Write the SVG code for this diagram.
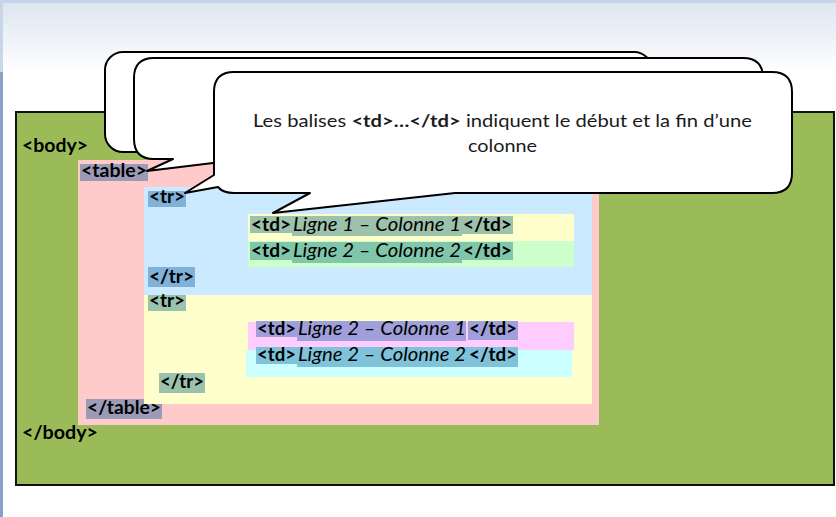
<svg xmlns="http://www.w3.org/2000/svg" width="836" height="517" viewBox="0 0 836 517">
<defs>
<linearGradient id="topg" x1="0" y1="0" x2="0" y2="1">
<stop offset="0" stop-color="#dbe4ef"/>
<stop offset="1" stop-color="#ffffff"/>
</linearGradient>
</defs>
<style>
.tag{font-family:Lato,"Liberation Sans",sans-serif;font-weight:bold;font-size:19px;fill:#000}
.td{font-family:Lato,"Liberation Sans",sans-serif;font-weight:bold;font-size:19.5px;fill:#000}
.it{font-family:Lato,"Liberation Sans",sans-serif;font-style:italic;font-size:19.5px;fill:#000}
.bub{fill:#fff;stroke:#000;stroke-width:2;stroke-linejoin:round}
.note{font-family:Lato,"Liberation Sans",sans-serif;font-size:17.5px;fill:#1a1a1a}
</style>
<rect width="836" height="517" fill="#fff"/>
<rect x="0" y="0" width="836" height="72" fill="url(#topg)"/>
<rect x="0" y="0" width="836" height="3" fill="#c3d4ea"/>
<rect x="0" y="0" width="3" height="72" fill="#c8d6e8"/>
<rect x="0" y="72" width="3" height="445" fill="#86a2c6"/>

<g id="body">
<rect x="16" y="112" width="818" height="373" fill="#9bbb59" stroke="#111" stroke-width="2"/>
<text class="tag" x="22" y="152" textLength="66" lengthAdjust="spacingAndGlyphs">&lt;body&gt;</text>
<text class="tag" x="22" y="439" textLength="76" lengthAdjust="spacingAndGlyphs">&lt;/body&gt;</text>
</g>

<g id="table">
<rect x="78" y="160" width="521" height="265" fill="#ffcaca"/>
<rect x="80" y="164" width="68" height="17" fill="#9b9bb8"/>
<text class="tag" x="81" y="177" textLength="66" lengthAdjust="spacingAndGlyphs">&lt;table&gt;</text>
<rect x="86" y="399" width="76" height="20" fill="#9b9bb8"/>
<text class="tag" x="87" y="414" textLength="74" lengthAdjust="spacingAndGlyphs">&lt;/table&gt;</text>
</g>

<g id="tr1">
<rect x="144" y="187" width="448" height="108" fill="#cbe9ff"/>
<rect x="148" y="191" width="38" height="16" fill="#7fb1d9"/>
<text class="tag" x="149" y="203" textLength="36" lengthAdjust="spacingAndGlyphs">&lt;tr&gt;</text>
<rect x="148" y="267" width="47" height="20" fill="#7fb1d9"/>
<text class="tag" x="149" y="283" textLength="45" lengthAdjust="spacingAndGlyphs">&lt;/tr&gt;</text>
</g>

<g id="td11">
<rect x="248" y="214" width="326" height="27" fill="#ffffcc"/>
<rect x="250" y="216" width="42" height="17" fill="#9cc2ab"/>
<rect x="292" y="216" width="170" height="20" fill="#9cc2ab"/>
<rect x="462" y="216" width="51" height="18" fill="#9cc2ab"/>
<text class="td" x="251" y="231" textLength="40" lengthAdjust="spacingAndGlyphs">&lt;td&gt;</text>
<text class="it" x="293" y="231" textLength="168" lengthAdjust="spacingAndGlyphs">Ligne 1 – Colonne 1</text>
<text class="td" x="463" y="231" textLength="49" lengthAdjust="spacingAndGlyphs">&lt;/td&gt;</text>
</g>

<g id="td12">
<rect x="248" y="241" width="326" height="26" fill="#ccffcc"/>
<rect x="250" y="242" width="42" height="18" fill="#7fc6ab"/>
<rect x="292" y="242" width="170" height="21" fill="#7fc6ab"/>
<rect x="462" y="242" width="51" height="18" fill="#7fc6ab"/>
<text class="td" x="251" y="257" textLength="40" lengthAdjust="spacingAndGlyphs">&lt;td&gt;</text>
<text class="it" x="293" y="257" textLength="168" lengthAdjust="spacingAndGlyphs">Ligne 2 – Colonne 2</text>
<text class="td" x="463" y="257" textLength="49" lengthAdjust="spacingAndGlyphs">&lt;/td&gt;</text>
</g>

<g id="tr2">
<rect x="144" y="295" width="448" height="109" fill="#ffffcc"/>
<rect x="148" y="295" width="38" height="16" fill="#9bc2ad"/>
<text class="tag" x="149" y="307" textLength="36" lengthAdjust="spacingAndGlyphs">&lt;tr&gt;</text>
<rect x="159" y="373" width="46" height="20" fill="#9bc2ad"/>
<text class="tag" x="160" y="388" textLength="44" lengthAdjust="spacingAndGlyphs">&lt;/tr&gt;</text>
</g>

<g id="td21">
<rect x="248" y="322" width="326" height="28" fill="#ffccff"/>
<rect x="256" y="321" width="41" height="16" fill="#9f9fdc"/>
<rect x="297" y="321" width="169" height="20" fill="#9f9fdc"/>
<rect x="468" y="321" width="50" height="19" fill="#9f9fdc"/>
<text class="td" x="257" y="335" textLength="39" lengthAdjust="spacingAndGlyphs">&lt;td&gt;</text>
<text class="it" x="298" y="335" textLength="168" lengthAdjust="spacingAndGlyphs">Ligne 2 – Colonne 1</text>
<text class="td" x="469" y="335" textLength="48" lengthAdjust="spacingAndGlyphs">&lt;/td&gt;</text>
</g>

<g id="td22">
<rect x="246" y="350" width="326" height="27" fill="#ccffff"/>
<rect x="256" y="347" width="41" height="17" fill="#7fc3db"/>
<rect x="297" y="347" width="171" height="20" fill="#7fc3db"/>
<rect x="468" y="347" width="50" height="20" fill="#7fc3db"/>
<text class="td" x="257" y="361" textLength="39" lengthAdjust="spacingAndGlyphs">&lt;td&gt;</text>
<text class="it" x="298" y="361" textLength="168" lengthAdjust="spacingAndGlyphs">Ligne 2 – Colonne 2</text>
<text class="td" x="469" y="361" textLength="48" lengthAdjust="spacingAndGlyphs">&lt;/td&gt;</text>
</g>

<g id="callout-back">
<rect class="bub" x="105" y="52" width="547" height="100" rx="18" ry="18"/>
</g>

<g id="callout-table">
<path class="bub" d="M154,58 H743 Q763,58 763,78 V139 Q763,159 743,159 H246 L147,171 L173,159 H154 Q134,159 134,139 V78 Q134,58 154,58 Z"/>
</g>

<g id="callout-td">
<path class="bub" d="M234,72 H772 Q792,72 792,92 V173 Q792,193 772,193 H455 L273,213 L310,193 H234 Q223,193 218,187 L185,193 L214,175 V92 Q214,72 234,72 Z"/>
<text class="note" x="502.5" y="127" text-anchor="middle" textLength="499" lengthAdjust="spacingAndGlyphs">Les balises <tspan font-weight="bold">&lt;td&gt;…&lt;/td&gt;</tspan> indiquent le début et la fin d’une</text>
<text class="note" x="502.5" y="152" text-anchor="middle" textLength="69" lengthAdjust="spacingAndGlyphs">colonne</text>
</g>

<g id="connectors"/>
</svg>
